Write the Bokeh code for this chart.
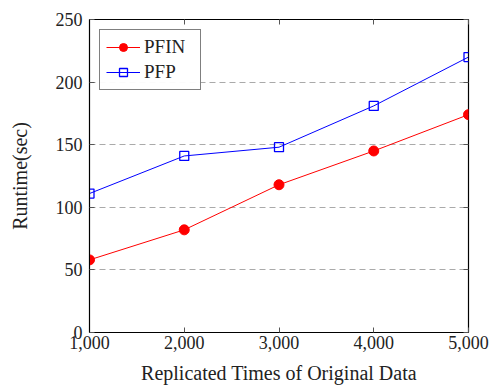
from bokeh.plotting import figure
from bokeh.models import Range1d, LinearAxis, NumeralTickFormatter, FixedTicker, Legend, LegendItem
from bokeh.embed import file_html
from bokeh.resources import INLINE

x_vals = [1000, 2000, 3000, 4000, 5000]
pfin = [58, 82, 118, 145, 174]
pfp = [111, 141, 148, 181, 220]
x_ticks = [1000, 2000, 3000, 4000, 5000]
y_ticks = [0, 50, 100, 150, 200, 250]

FONT = "Liberation Serif"

p = figure(width=490, height=387, output_backend="svg", toolbar_location=None,
           x_range=Range1d(1000, 5000), y_range=Range1d(0, 250),
           min_border_left=89, min_border_right=22, min_border_top=19, min_border_bottom=55)

p.background_fill_color = "white"
p.border_fill_color = "white"
p.outline_line_color = "black"
p.outline_line_width = 1.2

p.xgrid.visible = False
p.ygrid.ticker = FixedTicker(ticks=[50, 100, 150, 200])
p.ygrid.grid_line_color = "#aaaaaa"
p.ygrid.grid_line_dash = "6 4"
p.ygrid.grid_line_width = 1

for ax in [p.xaxis[0], p.yaxis[0]]:
    ax.major_tick_out = 0
    ax.major_tick_in = 5
    ax.minor_tick_in = 0
    ax.minor_tick_out = 0
    ax.major_tick_line_color = "#555555"
    ax.axis_line_color = "black"
    ax.major_label_text_font = FONT
    ax.major_label_text_font_size = "18px"
    ax.major_label_text_color = "#222222"
    ax.axis_label_text_font = FONT
    ax.axis_label_text_font_size = "20px"
    ax.axis_label_text_font_style = "normal"
    ax.axis_label_text_color = "#222222"

p.xaxis[0].ticker = FixedTicker(ticks=x_ticks)
p.xaxis[0].formatter = NumeralTickFormatter(format="0,0")
p.xaxis[0].axis_label = "Replicated Times of Original Data"
p.xaxis[0].major_label_standoff = 3
p.xaxis[0].axis_label_standoff = 10
p.yaxis[0].ticker = FixedTicker(ticks=y_ticks)
p.yaxis[0].axis_label = "Runtime(sec)"
p.yaxis[0].major_label_standoff = 7
p.yaxis[0].axis_label_standoff = 22

top = LinearAxis(ticker=FixedTicker(ticks=x_ticks),
                 major_label_overrides={t: "" for t in x_ticks},
                 major_tick_out=0, major_tick_in=5, minor_tick_in=0, minor_tick_out=0,
                 major_tick_line_color="#555555", axis_line_color=None)
right = LinearAxis(ticker=FixedTicker(ticks=y_ticks),
                   major_label_overrides={t: "" for t in y_ticks},
                   major_tick_out=0, major_tick_in=5, minor_tick_in=0, minor_tick_out=0,
                   major_tick_line_color="#555555", axis_line_color=None)
p.add_layout(top, "above")
p.add_layout(right, "right")

r1l = p.line(x_vals, pfin, line_color="red", line_width=1)
r1m = p.scatter(x_vals, pfin, marker="circle", size=10, fill_color="red", line_color="red")
r2l = p.line(x_vals, pfp, line_color="blue", line_width=1)
r2m = p.scatter(x_vals, pfp, marker="square", size=9, fill_color=None, line_color="blue", line_width=1.3)

legend = Legend(items=[LegendItem(label="PFIN", renderers=[r1l, r1m]),
                       LegendItem(label="PFP", renderers=[r2l, r2m])],
                location="top_left")
legend.label_text_font = FONT
legend.label_text_font_size = "19px"
legend.label_text_color = "#222222"
legend.border_line_color = "black"
legend.border_line_width = 1.2
legend.glyph_width = 34
legend.label_width = 50
legend.spacing = 3
legend.padding = 6
legend.margin = 10
legend.label_standoff = 4
p.add_layout(legend)

open("out.html", "w").write(file_html(p, INLINE))
